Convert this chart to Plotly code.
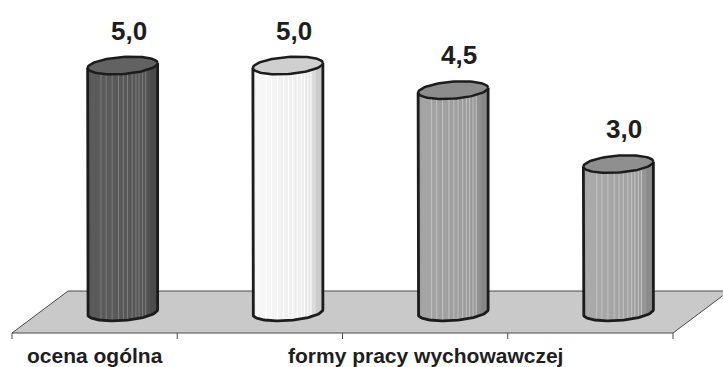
import numpy as np
import plotly.graph_objects as go

# ---- data -------------------------------------------------------------
values = [5.0, 5.0, 4.5, 3.0]
group_labels = ["ocena ogólna", "formy pracy wychowawczej"]
group_first = [0, 1]          # first bar index of each group
group_last = [0, 3]           # last bar index of each group

# ---- styling ----------------------------------------------------------
body_gray = [86, 234, 155, 160]                 # base grey of each cylinder wall
top_fill = ["#626262", "#cfcfcf", "#8c8c8c", "#8f8f8f"]
stripe_gain = [38, 14, 34, 32]                  # strength of thin light stripes
outline = "#1c1c1c"
floor_fill = "#c9c9c9"
floor_line = "#4a4a4a"
text_color = "#1e1e1e"
font_family = "Liberation Sans, Arial, sans-serif"

W, H = 723, 367
px_per_x = 165.25       # pixels per category
px_per_y = 49.3         # pixels per value unit
x0 = -0.5 - 12 / px_per_x
y0 = -(H - 312) / px_per_y
x_range = [x0, x0 + W / px_per_x]
y_range = [y0, y0 + H / px_per_y]

depth_dx = 56 / px_per_x      # floor depth, horizontal shift
depth_dy = 42 / px_per_y      # floor depth, vertical shift
half_w = 35 / px_per_x        # cylinder radius (x units)
half_h = 8.5 / px_per_y       # ellipse half height (y units)
tilt = 0.233                  # slight perspective tilt of the ellipses
n_bands = 14
stripe_pos = [-0.62, -0.47, -0.30, -0.12, 0.02, 0.14, 0.27, 0.38, 0.47, 0.57, 0.66]

fig = go.Figure()

# ---- floor ------------------------------------------------------------
n = len(values)
fx = [-0.5, n - 0.5, n - 0.5 + depth_dx, -0.5 + depth_dx, -0.5]
fy = [-depth_dy / 2, -depth_dy / 2, depth_dy / 2, depth_dy / 2, -depth_dy / 2]
fig.add_trace(go.Scatter(x=fx, y=fy, mode="lines", fill="toself",
                         fillcolor=floor_fill, line=dict(color=floor_line, width=1),
                         hoverinfo="skip"))

# category separators below the front edge
tick_len = 6 / px_per_y
tx, ty = [], []
for k in range(n + 1):
    tx += [k - 0.5, k - 0.5, None]
    ty += [-depth_dy / 2, -depth_dy / 2 - tick_len, None]
fig.add_trace(go.Scatter(x=tx, y=ty, mode="lines",
                         line=dict(color=floor_line, width=1), hoverinfo="skip"))


def gray_hex(g):
    g = int(max(0, min(255, round(g))))
    return "#{0:02x}{0:02x}{0:02x}".format(g)


def wall_patch(c, v, xa, xb, k=6):
    """Closed outline of the wall between xa and xb (bottom follows the base arc)."""
    xs = np.linspace(xa, xb, k)
    u = np.clip((xs - c) / half_w, -1, 1)
    bottom = -half_h * np.sqrt(1 - u ** 2) + tilt * (xs - c)
    top = v + tilt * (xs - c)
    px = list(xs) + list(xs[::-1]) + [xs[0]]
    py = list(bottom) + list(top[::-1]) + [bottom[0]]
    return px, py


def shade(i, u):
    base = body_gray[i]
    g = base * (1.03 - 0.04 * u)
    if u > 0.55:
        g -= base * 0.16 * ((u - 0.55) / 0.45) ** 1.5
    if u < -0.8:
        g -= base * 0.05 * (-u - 0.8) / 0.2
    return g


# ---- cylinders --------------------------------------------------------
for i, v in enumerate(values):
    c = i + depth_dx / 2

    # full wall in the base colour
    px, py = wall_patch(c, v, c - half_w, c + half_w, 60)
    fig.add_trace(go.Scatter(x=px, y=py, mode="lines", fill="toself",
                             fillcolor=gray_hex(body_gray[i]), line=dict(width=0),
                             hoverinfo="skip"))

    # soft shading bands (slightly overlapping to avoid seams)
    edges = np.linspace(c - half_w, c + half_w, n_bands + 1)
    eps = 0.35 * (edges[1] - edges[0])
    for s in range(n_bands):
        xa = max(c - half_w, edges[s] - eps)
        xb = min(c + half_w, edges[s + 1] + eps)
        um = ((edges[s] + edges[s + 1]) / 2 - c) / half_w
        px, py = wall_patch(c, v, xa, xb)
        col = gray_hex(shade(i, um))
        fig.add_trace(go.Scatter(x=px, y=py, mode="lines", fill="toself",
                                 fillcolor=col, line=dict(width=0.6, color=col),
                                 hoverinfo="skip"))

    # thin light vertical stripes
    sx, sy = [], []
    for u in stripe_pos:
        xx = c + u * half_w
        sx += [xx, xx, None]
        sy += [-half_h * np.sqrt(1 - u ** 2) + tilt * (xx - c), v + tilt * (xx - c), None]
    fig.add_trace(go.Scatter(x=sx, y=sy, mode="lines",
                             line=dict(color=gray_hex(shade(i, 0) + stripe_gain[i]), width=1),
                             hoverinfo="skip"))

    # outline of the wall: left side, lower arc, right side
    t = np.linspace(np.pi, 2 * np.pi, 60)
    ax = c + half_w * np.cos(t)
    ay = half_h * np.sin(t) + tilt * (ax - c)
    ox = [c - half_w] + list(ax) + [c + half_w]
    oy = [v - tilt * half_w] + list(ay) + [v + tilt * half_w]
    fig.add_trace(go.Scatter(x=ox, y=oy, mode="lines",
                             line=dict(color=outline, width=2.8), hoverinfo="skip"))

    # top ellipse
    t = np.linspace(0, 2 * np.pi, 90)
    ex = c + half_w * np.cos(t)
    ey = v + half_h * np.sin(t) + tilt * (ex - c)
    fig.add_trace(go.Scatter(x=ex, y=ey, mode="lines", fill="toself",
                             fillcolor=top_fill[i],
                             line=dict(color=outline, width=2.5), hoverinfo="skip"))

# ---- labels -----------------------------------------------------------
annotations = []
for i, v in enumerate(values):
    annotations.append(dict(
        x=i + depth_dx / 2 + 6 / px_per_x, y=v + 35 / px_per_y,
        xref="x", yref="y", showarrow=False,
        text="<b>" + "{:.1f}".format(v).replace(".", ",") + "</b>",
        font=dict(family=font_family, size=26, color=text_color),
        xanchor="center", yanchor="middle"))

for lab, a, b in zip(group_labels, group_first, group_last):
    annotations.append(dict(
        x=(a + b) / 2, y=-depth_dy / 2 - 22 / px_per_y,
        xref="x", yref="y", showarrow=False,
        text="<b>" + lab + "</b>",
        font=dict(family=font_family, size=21, color=text_color),
        xanchor="center", yanchor="middle"))

fig.update_layout(
    width=W, height=H,
    margin=dict(l=0, r=0, t=0, b=0),
    paper_bgcolor="white", plot_bgcolor="white",
    showlegend=False,
    xaxis=dict(range=x_range, visible=False, fixedrange=True),
    yaxis=dict(range=y_range, visible=False, fixedrange=True),
    annotations=annotations,
)

fig.write_html("out.html")
